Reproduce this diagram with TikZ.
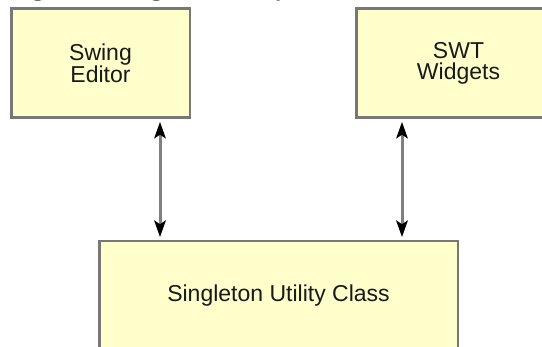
\documentclass[tikz,border=0pt]{standalone}
\usepackage{fontspec}
\setmainfont{Liberation Sans}
\newfontfamily\captionserif{Liberation Serif}
\definecolor{boxfill}{HTML}{FFFFCC}
\definecolor{boxline}{HTML}{777777}
\tikzset{
  box/.style={draw=boxline,line width=2.5pt,fill=boxfill,inner sep=0pt,outer sep=0pt,
    align=center,font=\fontsize{23}{21}\selectfont,text=black!90},
  shaft/.style={draw=black!50,line width=3pt},
  head/.style={fill=black}
}
\begin{document}
\begin{tikzpicture}[x=1pt,y=-1pt]
\useasboundingbox (0,0) rectangle (542,347);
\fill[white] (0,0) rectangle (542,347);
\clip (0,0) rectangle (542,347);

\node[anchor=base west,inner sep=0pt,font=\captionserif\bfseries\fontsize{25.5}{28}\selectfont] (title) at (9,-4.5) {Figure 2. Singleton utility};

\node[box,minimum width=178.5pt,minimum height=109pt] (swing) at (100.5,63.25) {Swing\\Editor};
\node[box,minimum width=204.5pt,minimum height=109pt] (swt) at (458.5,63.25) {SWT\\Widgets};
\node[box,minimum width=358.5pt,minimum height=109.5pt] (util) at (278.5,296) {Singleton Utility Class};

\coordinate (l1) at ([xshift=59.5pt]swing.south);
\coordinate (l2) at (l1 |- util.north);
\coordinate (r1) at ([xshift=-56.5pt]swt.south);
\coordinate (r2) at (r1 |- util.north);

\foreach \a/\b in {l1/l2,r1/r2}{
  \draw[shaft] ([yshift=-14pt]\a) -- ([yshift=14pt]\b);
  \fill[head] ([yshift=-4.25pt]\a) -- ([xshift=-6pt,yshift=-21pt]\a) -- ([yshift=-17pt]\a) -- ([xshift=6pt,yshift=-21pt]\a) -- cycle;
  \fill[head] ([yshift=4.25pt]\b) -- ([xshift=-6pt,yshift=21pt]\b) -- ([yshift=17pt]\b) -- ([xshift=6pt,yshift=21pt]\b) -- cycle;
}
\end{tikzpicture}
\end{document}
